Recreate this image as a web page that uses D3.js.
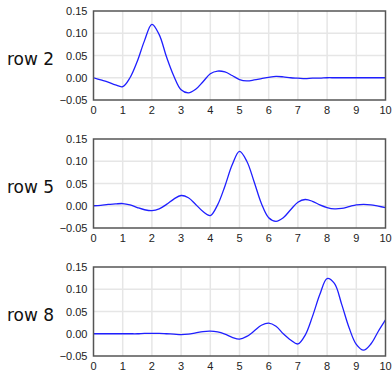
<!DOCTYPE html>
<html>
<head>
<meta charset="utf-8">
<script src="https://cdn.jsdelivr.net/npm/d3@7"></script>
<style>
  html, body { margin: 0; padding: 0; background: #fff; }
  svg { display: block; }
  .tick-lbl { font: 11px "Liberation Sans", Arial, sans-serif; fill: #222; }
  .row-lbl { font: 17px "DejaVu Sans", sans-serif; fill: #111; }
  .grid { stroke: #e6e6e6; stroke-width: 1.5; }
  .frame { fill: none; stroke: #555; stroke-width: 1.5; }
  .curve { fill: none; stroke: #1f1fff; stroke-width: 1.3; }
</style>
</head>
<body>
<svg id="chart"></svg>
<script>
/* three stacked panels, one curve each */
(function () {
  const W = 392, H = 370;

  const xs = [0, 0.25, 0.5, 0.75, 1, 1.25, 1.5, 1.75, 2, 2.25, 2.5, 2.75, 3, 3.25, 3.5, 3.75,
    4, 4.25, 4.5, 4.75, 5, 5.25, 5.5, 5.75, 6, 6.25, 6.5, 6.75, 7, 7.25, 7.5, 7.75,
    8, 8.25, 8.5, 8.75, 9, 9.25, 9.5, 9.75, 10];

  const row2 = [0.000, -0.005, -0.010, -0.016, -0.020, 0.000, 0.037, 0.084, 0.120, 0.097, 0.047,
    0.004, -0.027, -0.034, -0.026, -0.009, 0.009, 0.015, 0.013, 0.005, -0.004, -0.007, -0.005,
    -0.002, 0.001, 0.003, 0.002, 0.000, -0.001, -0.002, -0.001, -0.001, 0.000, 0.000, 0.000,
    0.000, 0.000, 0.000, 0.000, 0.000, 0.000];

  const row5 = [0.000, 0.001, 0.003, 0.004, 0.005, 0.002, -0.004, -0.009, -0.011, -0.007, 0.003,
    0.015, 0.023, 0.018, 0.003, -0.013, -0.022, 0.002, 0.044, 0.092, 0.122, 0.100, 0.054,
    0.005, -0.027, -0.035, -0.027, -0.009, 0.008, 0.014, 0.010, 0.002, -0.004, -0.007, -0.006,
    -0.002, 0.002, 0.003, 0.002, -0.001, -0.004];

  const row8 = [0.000, 0.000, 0.000, 0.000, 0.000, 0.000, 0.000, 0.001, 0.001, 0.001, 0.000,
    -0.001, -0.002, -0.001, 0.002, 0.005, 0.006, 0.004, -0.001, -0.008, -0.012, -0.006, 0.006,
    0.019, 0.024, 0.017, 0.000, -0.014, -0.023, -0.003, 0.039, 0.088, 0.124, 0.113, 0.066,
    0.014, -0.024, -0.037, -0.023, 0.005, 0.031];

  const rowNames = ['row 2', 'row 5', 'row 8'];
  const rows = [row2, row5, row8];

  const xTicks = [0, 1, 2, 3, 4, 5, 6, 7, 8, 9, 10];
  const yTicks = [-0.05, 0.00, 0.05, 0.10, 0.15];

  const LEFT = 93.5, RIGHT = 385.5;
  const TOP0 = 11, STEP = 128, PH = 89;

  const svg = d3.select('#chart').attr('width', W).attr('height', H);

  const x = d3.scaleLinear().domain([0, 10]).range([LEFT, RIGHT]);

  rows.forEach((vals, i) => {
    const top = TOP0 + i * STEP;
    const y = d3.scaleLinear().domain([-0.05, 0.15]).range([top + PH, top]);
    const g = svg.append('g');

    // grid
    g.selectAll('.gx').data(xTicks.slice(1, -1)).enter().append('line')
      .attr('class', 'grid')
      .attr('x1', (d) => x(d)).attr('x2', (d) => x(d))
      .attr('y1', top).attr('y2', top + PH);
    g.selectAll('.gy').data(yTicks.slice(1, -1)).enter().append('line')
      .attr('class', 'grid')
      .attr('x1', LEFT).attr('x2', RIGHT)
      .attr('y1', (d) => y(d)).attr('y2', (d) => y(d));

    // curve
    const line = d3.line()
      .x((d, k) => x(xs[k]))
      .y((d) => y(d))
      .curve(d3.curveCatmullRom.alpha(0.5));
    g.append('path').attr('class', 'curve').attr('d', line(vals));

    g.append('rect').attr('class', 'frame')
      .attr('x', LEFT).attr('y', top).attr('width', RIGHT - LEFT).attr('height', PH);

    // tick labels
    g.selectAll('.xl').data(xTicks).enter().append('text')
      .attr('class', 'tick-lbl')
      .attr('x', (d) => x(d)).attr('y', top + PH + 14)
      .attr('text-anchor', 'middle')
      .text((d) => d);
    g.selectAll('.yl').data(yTicks).enter().append('text')
      .attr('class', 'tick-lbl')
      .attr('x', LEFT - 6).attr('y', (d) => y(d) + 4)
      .attr('text-anchor', 'end')
      .text((d) => d3.format('.2f')(d));

    g.append('text').attr('class', 'row-lbl')
      .attr('x', 7).attr('y', top + 54)
      .text(rowNames[i]);
  });
})();
</script>
</body>
</html>
